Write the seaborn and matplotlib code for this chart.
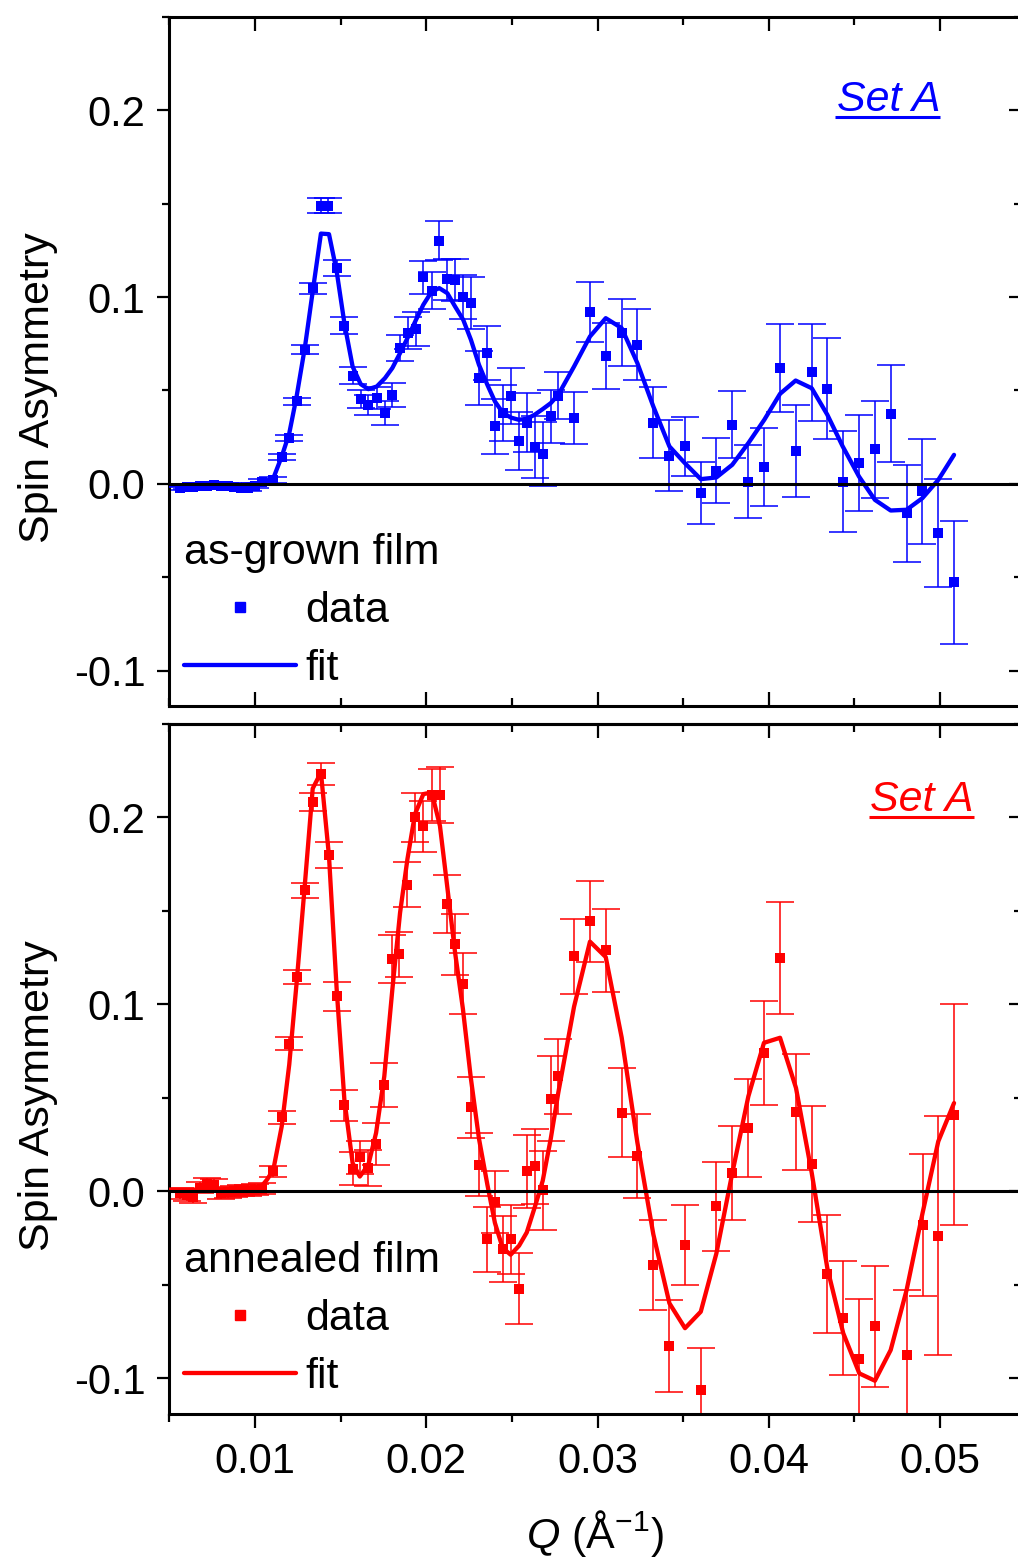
import numpy as np
import pandas as pd
import matplotlib
matplotlib.use("Agg")
import matplotlib.pyplot as plt
from matplotlib.ticker import MultipleLocator, FormatStrFormatter
from matplotlib.lines import Line2D
import seaborn as sns

# ---------------- data: as-grown film (top) ----------------
q_top = [0.0056, 0.0060, 0.0064, 0.0068, 0.0072, 0.0076, 0.0080, 0.0084, 0.0088, 0.0092,
         0.0096, 0.0100, 0.0104, 0.01107, 0.01156, 0.0120, 0.01243, 0.01292, 0.01337, 0.01385,
         0.01428, 0.01477, 0.01522, 0.01570, 0.01617, 0.01662, 0.01711, 0.01759, 0.01802, 0.01847,
         0.01895, 0.01940, 0.01983, 0.02032, 0.02076, 0.02123, 0.02168, 0.02216, 0.02261, 0.02308,
         0.02357, 0.02401, 0.02446, 0.02493, 0.02540, 0.02587, 0.02633, 0.02680, 0.02727, 0.02771,
         0.02863, 0.02956, 0.03048, 0.03141, 0.03233, 0.03326, 0.03420, 0.03511, 0.03603, 0.03694,
         0.03787, 0.03881, 0.03974, 0.04066, 0.04157, 0.04251, 0.04342, 0.04432, 0.04527, 0.04620,
         0.04712, 0.04805, 0.04897, 0.04990, 0.05082]
sa_top = [-0.0020, -0.0015, -0.0015, -0.0010, -0.0010, -0.0008, -0.0010, -0.0010, -0.0015, -0.0020,
          -0.0025, -0.0010, 0.0010, 0.0020, 0.0143, 0.0245, 0.0441, 0.0718, 0.1048, 0.1489,
          0.1489, 0.1155, 0.0846, 0.0578, 0.0454, 0.0423, 0.0459, 0.0379, 0.0477, 0.0727,
          0.0807, 0.0829, 0.1105, 0.1034, 0.1303, 0.1096, 0.1093, 0.1000, 0.0968, 0.0566,
          0.0700, 0.0307, 0.0379, 0.0468, 0.0230, 0.0328, 0.0197, 0.0159, 0.0361, 0.0471,
          0.0352, 0.0920, 0.0686, 0.0810, 0.0745, 0.0328, 0.0150, 0.0200, -0.0050, 0.0071,
          0.0316, 0.0012, 0.0089, 0.0620, 0.0177, 0.0598, 0.0509, 0.0012, 0.0111, 0.0186,
          0.0375, -0.0157, -0.0041, -0.0264, -0.0527]
err_top = [0.0015, 0.0015, 0.0015, 0.0015, 0.0015, 0.0015, 0.0015, 0.0015, 0.0015, 0.0015,
           0.0015, 0.0015, 0.0015, 0.0015, 0.0015, 0.0017, 0.0020, 0.0023, 0.0030, 0.0040,
           0.0040, 0.0042, 0.0046, 0.0046, 0.0050, 0.0054, 0.0060, 0.0063, 0.0065, 0.0070,
           0.0085, 0.0090, 0.0090, 0.0100, 0.0107, 0.0110, 0.0113, 0.0120, 0.0140, 0.0145,
           0.0145, 0.0148, 0.0150, 0.0150, 0.0157, 0.0156, 0.0166, 0.0170, 0.0140, 0.0126,
           0.0140, 0.0160, 0.0177, 0.0180, 0.0190, 0.0190, 0.0190, 0.0160, 0.0166, 0.0172,
           0.0180, 0.0196, 0.0210, 0.0235, 0.0246, 0.0260, 0.0270, 0.0270, 0.0257, 0.0260,
           0.0260, 0.0260, 0.0280, 0.0290, 0.0330]

qfit_top = [0.0050, 0.0060, 0.0070, 0.0080, 0.0090, 0.0100, 0.0105, 0.01107, 0.01156, 0.0120,
            0.01243, 0.01292, 0.01337, 0.01385, 0.01432, 0.01477, 0.01522, 0.01570, 0.01617, 0.01662,
            0.01711, 0.01759, 0.01802, 0.01847, 0.01895, 0.01940, 0.01983, 0.02032, 0.02076, 0.02123,
            0.02168, 0.02216, 0.02261, 0.02308, 0.02357, 0.02401, 0.02446, 0.02493, 0.02540, 0.02587,
            0.02633, 0.02680, 0.02727, 0.02771, 0.02863, 0.02956, 0.03048, 0.03141, 0.03233, 0.03326,
            0.03420, 0.03511, 0.03603, 0.03694, 0.03787, 0.03881, 0.03974, 0.04066, 0.04157, 0.04251,
            0.04342, 0.04432, 0.04527, 0.04620, 0.04712, 0.04805, 0.04897, 0.04990, 0.05082]
fit_top = [-0.0010, -0.0010, -0.0010, -0.0010, -0.0005, 0.0000, 0.0010, 0.0030, 0.0146, 0.0270,
           0.0468, 0.0735, 0.1030, 0.1340, 0.1337, 0.1137, 0.0860, 0.0628, 0.0534, 0.0507,
           0.0521, 0.0566, 0.0620, 0.0700, 0.0789, 0.0878, 0.0959, 0.1030, 0.1048, 0.1021,
           0.0950, 0.0878, 0.0771, 0.0637, 0.0530, 0.0441, 0.0382, 0.0355, 0.0343, 0.0348,
           0.0370, 0.0400, 0.0432, 0.0477, 0.0628, 0.0789, 0.0887, 0.0834, 0.0646, 0.0414,
           0.0200, 0.0110, 0.0025, 0.0034, 0.0102, 0.0218, 0.0343, 0.0482, 0.0553, 0.0512,
           0.0370, 0.0200, 0.0039, -0.0086, -0.0143, -0.0139, -0.0077, 0.0021, 0.0155]

# ---------------- data: annealed film (bottom) ----------------
q_bot = [0.0056, 0.0060, 0.0064, 0.0068, 0.0072, 0.0076, 0.0080, 0.0084, 0.0088, 0.0092,
         0.0096, 0.0100, 0.0104, 0.01107, 0.01156, 0.0120, 0.01243, 0.01292, 0.01337, 0.01385,
         0.01432, 0.01477, 0.01522, 0.01570, 0.01612, 0.01662, 0.01707, 0.01755, 0.01802, 0.01843,
         0.01890, 0.01934, 0.01983, 0.02032, 0.02080, 0.02120, 0.02168, 0.02214, 0.02260, 0.02308,
         0.02357, 0.02401, 0.02446, 0.02493, 0.02542, 0.02587, 0.02633, 0.02680, 0.02727, 0.02771,
         0.02863, 0.02956, 0.03048, 0.03141, 0.03233, 0.03326, 0.03420, 0.03511, 0.03603, 0.03694,
         0.03787, 0.03881, 0.03972, 0.04066, 0.04159, 0.04251, 0.04342, 0.04435, 0.04529, 0.04620,
         0.04805, 0.04898, 0.04990, 0.05082]
sa_bot = [-0.0010, -0.0020, -0.0030, 0.0020, 0.0040, 0.0035, -0.0010, -0.0005, 0.0000, 0.0005,
          0.0005, 0.0010, 0.0015, 0.0107, 0.0396, 0.0790, 0.1148, 0.1610, 0.2084, 0.2232,
          0.1798, 0.1044, 0.0461, 0.0122, 0.0182, 0.0125, 0.0254, 0.0568, 0.1241, 0.1268,
          0.1640, 0.2000, 0.1952, 0.2121, 0.2121, 0.1536, 0.1321, 0.1111, 0.0450, 0.0143,
          -0.0256, -0.0055, -0.0307, -0.0256, -0.0520, 0.0108, 0.0135, 0.0006, 0.0497, 0.0615,
          0.1258, 0.1445, 0.1289, 0.0422, 0.0190, -0.0393, -0.0827, -0.0284, -0.1064, -0.0080,
          0.0098, 0.0340, 0.0741, 0.1250, 0.0423, 0.0148, -0.0441, -0.0678, -0.0896, -0.0720,
          -0.0875, -0.0178, -0.0237, 0.0410]
err_bot = [0.0030, 0.0030, 0.0030, 0.0030, 0.0030, 0.0030, 0.0030, 0.0030, 0.0030, 0.0030,
           0.0030, 0.0030, 0.0030, 0.0030, 0.0035, 0.0036, 0.0037, 0.0040, 0.0047, 0.0060,
           0.0070, 0.0078, 0.0082, 0.0087, 0.0090, 0.0095, 0.0110, 0.0118, 0.0128, 0.0120,
           0.0120, 0.0130, 0.0135, 0.0140, 0.0150, 0.0155, 0.0163, 0.0164, 0.0164, 0.0168,
           0.0174, 0.0165, 0.0178, 0.0186, 0.0190, 0.0196, 0.0200, 0.0213, 0.0227, 0.0200,
           0.0200, 0.0216, 0.0220, 0.0238, 0.0227, 0.0241, 0.0245, 0.0214, 0.0227, 0.0240,
           0.0250, 0.0260, 0.0280, 0.0300, 0.0310, 0.0310, 0.0316, 0.0305, 0.0320, 0.0324,
           0.0350, 0.0380, 0.0640, 0.0590]

qfit_bot = [0.0050, 0.0060, 0.0070, 0.0080, 0.0090, 0.0100, 0.0104, 0.0107, 0.01107, 0.01156,
            0.0120, 0.01243, 0.01292, 0.01337, 0.0136, 0.01385, 0.01432, 0.01477, 0.01522, 0.01570,
            0.01612, 0.01662, 0.01707, 0.01755, 0.01802, 0.01847, 0.01890, 0.01934, 0.01983, 0.02032,
            0.02080, 0.02120, 0.02168, 0.02214, 0.02260, 0.02308, 0.02357, 0.02401, 0.02446, 0.02493,
            0.02542, 0.02587, 0.02633, 0.02680, 0.02727, 0.02771, 0.02863, 0.02956, 0.03048, 0.03141,
            0.03233, 0.03326, 0.03420, 0.03511, 0.03603, 0.03694, 0.03787, 0.03881, 0.03972, 0.04066,
            0.04159, 0.04251, 0.04342, 0.04435, 0.04529, 0.04620, 0.04712, 0.04805, 0.04898, 0.04990,
            0.05082]
fit_bot = [0.0010, 0.0010, 0.0010, 0.0010, 0.0010, 0.0010, 0.0030, 0.0063, 0.0116, 0.0348,
           0.0679, 0.1116, 0.1652, 0.2155, 0.2196, 0.2241, 0.1794, 0.1080, 0.0490, 0.0152,
           0.0080, 0.0143, 0.0313, 0.0616, 0.1080, 0.1490, 0.1777, 0.2018, 0.2125, 0.2134,
           0.1955, 0.1650, 0.1280, 0.0977, 0.0609, 0.0282, 0.0036, -0.0168, -0.0302, -0.0338,
           -0.0290, -0.0219, -0.0086, 0.0057, 0.0282, 0.0528, 0.0988, 0.1336, 0.1254, 0.0824,
           0.0261, -0.0229, -0.0598, -0.0731, -0.0643, -0.0332, 0.0098, 0.0509, 0.0795, 0.0822,
           0.0554, 0.0099, -0.0410, -0.0758, -0.0973, -0.1012, -0.0848, -0.0527, -0.0116, 0.0268,
           0.0473]

panel_titles = ["as-grown film", "annealed film"]
panel_colors = ["#0000ff", "#ff0000"]
set_label = "Set A"
legend_labels = ["data", "fit"]
x_ticks = [0.01, 0.02, 0.03, 0.04, 0.05]
y_ticks = [-0.1, 0.0, 0.1, 0.2]

# ---------------- style ----------------
sns.set_theme(style="ticks")
plt.rcParams["font.family"] = ["Liberation Sans", "DejaVu Sans"]
plt.rcParams["mathtext.fontset"] = "custom"
plt.rcParams["mathtext.rm"] = "Liberation Sans"
plt.rcParams["mathtext.it"] = "Liberation Sans:italic"
plt.rcParams["axes.unicode_minus"] = False
for key in ["text.color", "axes.labelcolor", "xtick.color", "ytick.color",
            "axes.edgecolor", "xtick.labelcolor", "ytick.labelcolor"]:
    plt.rcParams[key] = "black"

W, H = 1018, 1564
fig = plt.figure(figsize=(W / 100, H / 100), dpi=100)

L_px, R_px = 169, 1021
panels_px = [(17, 706), (724, 1414)]

xlim = (0.01 - (255 - L_px) / 17125.0, 0.01 + (R_px - 255) / 17125.0)
ylim = (-0.119, 0.250)

TICK_FS = 30
LAB_FS = 31
SPINE_LW = 2.2

datasets = [
    (q_top, sa_top, err_top, qfit_top, fit_top),
    (q_bot, sa_bot, err_bot, qfit_bot, fit_bot),
]

set_pos = [  # (text x, text baseline y, underline x0, x1, underline y) in axes fraction
    (0.7838, 0.8640, 0.7814, 0.9048, 0.8545),
    (0.8226, 0.8740, 0.8214, 0.9448, 0.8645),
]

axes = []
for i, ((top_px, bot_px), (q, sa, err, qf, fv)) in enumerate(zip(panels_px, datasets)):
    ax = fig.add_axes([L_px / W, 1 - bot_px / H, (R_px - L_px) / W, (bot_px - top_px) / H])
    axes.append(ax)
    col = panel_colors[i]

    ax.errorbar(q, sa, yerr=err, fmt="none", ecolor=col, elinewidth=1.1,
                capsize=10, capthick=1.1, zorder=2)
    sns.scatterplot(x=q, y=sa, ax=ax, marker="s", s=50, color=col, linewidth=0,
                    zorder=3, legend=False)
    sns.lineplot(x=qf, y=fv, ax=ax, color=col, linewidth=3.1, zorder=4, legend=False)
    ax.axhline(0, color="black", linewidth=2.2, zorder=5)

    ax.set_xlim(*xlim)
    ax.set_ylim(*ylim)
    ax.xaxis.set_major_locator(MultipleLocator(0.01))
    ax.xaxis.set_minor_locator(MultipleLocator(0.005))
    ax.yaxis.set_major_locator(MultipleLocator(0.1))
    ax.yaxis.set_minor_locator(MultipleLocator(0.05))
    ax.yaxis.set_major_formatter(FormatStrFormatter("%.1f"))
    ax.xaxis.set_major_formatter(FormatStrFormatter("%.2f"))

    for s in ax.spines.values():
        s.set_visible(True)
        s.set_linewidth(SPINE_LW)
        s.set_color("black")

    # left ticks outward
    ax.tick_params(axis="y", which="major", direction="out", length=9, width=1.6,
                   labelsize=TICK_FS, pad=8, left=True, right=False, colors="black")
    ax.tick_params(axis="y", which="minor", direction="out", length=5, width=1.6,
                   left=True, right=False)
    # right ticks inward via secondary axis
    sec_y = ax.secondary_yaxis("right")
    sec_y.yaxis.set_major_locator(MultipleLocator(0.1))
    sec_y.yaxis.set_minor_locator(MultipleLocator(0.05))
    sec_y.tick_params(axis="y", which="major", direction="in", length=9, width=1.6,
                      labelright=False)
    sec_y.tick_params(axis="y", which="minor", direction="in", length=5, width=1.6)
    sec_y.spines["right"].set_linewidth(SPINE_LW)

    if i == 0:
        ax.tick_params(axis="x", which="major", direction="in", length=10, width=1.6,
                       top=True, bottom=True, labelbottom=False, labeltop=False)
        ax.tick_params(axis="x", which="minor", direction="in", length=6, width=1.6,
                       top=True, bottom=True)
    else:
        ax.tick_params(axis="x", which="major", direction="out", length=10, width=1.6,
                       top=False, bottom=True, labelsize=TICK_FS, pad=10)
        ax.tick_params(axis="x", which="minor", direction="out", length=6, width=1.6,
                       top=False, bottom=True)
        sec_x = ax.secondary_xaxis("top")
        sec_x.xaxis.set_major_locator(MultipleLocator(0.01))
        sec_x.xaxis.set_minor_locator(MultipleLocator(0.005))
        sec_x.tick_params(axis="x", which="major", direction="in", length=10, width=1.6,
                          labeltop=False)
        sec_x.tick_params(axis="x", which="minor", direction="in", length=6, width=1.6)
        sec_x.spines["top"].set_linewidth(SPINE_LW)
        ax.set_xlabel("$Q$ (Å$^{-1}$)", fontsize=LAB_FS, labelpad=19)

    ax.set_yticks(y_ticks)
    ax.set_ylabel("Spin Asymmetry", fontsize=LAB_FS)
    ax.yaxis.set_label_coords(-0.130, 0.462)

    # "Set A" underlined italic label
    tx, ty, ux0, ux1, uy = set_pos[i]
    ax.text(tx, ty, set_label, transform=ax.transAxes, fontsize=LAB_FS, style="italic",
            color=col, ha="left", va="baseline")
    ax.plot([ux0, ux1], [uy, uy], transform=ax.transAxes, color=col, lw=2.2,
            solid_capstyle="butt", clip_on=False)

    handles = [Line2D([], [], marker="s", ls="", color=col, markersize=7.0),
               Line2D([], [], color=col, lw=3.1)]
    leg = ax.legend(handles, legend_labels, title=panel_titles[i], loc="lower left",
                    bbox_to_anchor=(0.0175, 0.024), frameon=False, fontsize=LAB_FS,
                    title_fontsize=LAB_FS, handlelength=2.6, handletextpad=0.22,
                    labelspacing=0.42, borderpad=0, borderaxespad=0, alignment="left")

fig.savefig("out.png", dpi=100)
